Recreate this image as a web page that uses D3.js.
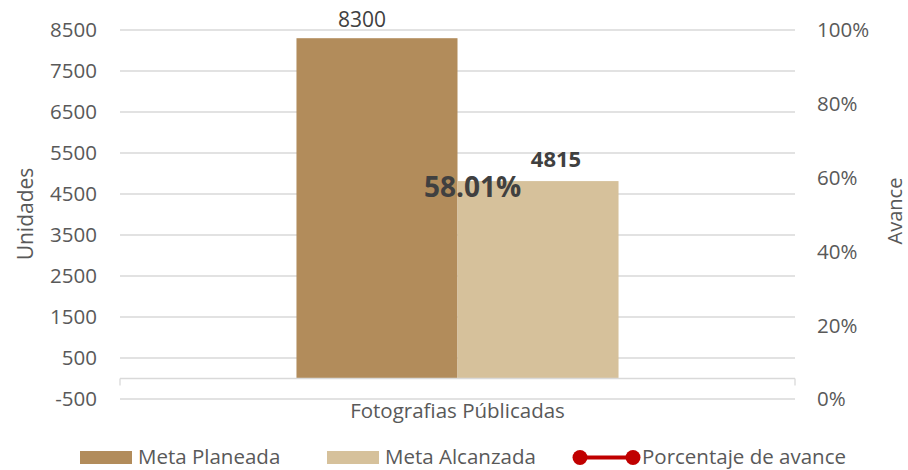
<!DOCTYPE html>
<html>
<head>
<meta charset="utf-8">
<script src="https://cdn.jsdelivr.net/npm/d3@7"></script>
<style>
  body { margin: 0; background: #fff; }
  text { font-family: "Open Sans", sans-serif; fill: #595959; }
</style>
</head>
<body>
<div id="chart"></div>
<script>
// data
var categories = ["Fotografias Públicadas"];
var series = ["Meta Planeada", "Meta Alcanzada"];
var metaPlaneada = [8300];
var metaAlcanzada = [4815];
var porcentaje = [0.5801];
var leftTicks = [-500, 500, 1500, 2500, 3500, 4500, 5500, 6500, 7500, 8500];
var rightTicks = [0, 0.2, 0.4, 0.6, 0.8, 1];

var colors = ["#B28C5B", "#D6C19B"],
    lineColor = "#C00000";

var width = 908, height = 470;
var plot = {left: 120, right: 795, top: 30, bottom: 399};

var svg = d3.select("#chart").append("svg")
    .attr("width", width)
    .attr("height", height);

var y = d3.scaleLinear().domain([-500, 8500]).range([plot.bottom, plot.top]);
var y2 = d3.scaleLinear().domain([0, 1]).range([plot.bottom, plot.top]);

var x0 = d3.scaleBand().domain(categories)
    .range([plot.left, plot.right])
    .paddingInner(0.354).paddingOuter(0.354);
var x1 = d3.scaleBand().domain(series).range([0, x0.bandwidth()]);

// gridlines
svg.append("g").selectAll("line")
    .data(leftTicks)
    .enter().append("line")
    .attr("x1", plot.left).attr("x2", plot.right)
    .attr("y1", function (d) { return y(d); })
    .attr("y2", function (d) { return y(d); })
    .attr("stroke", "#d9d9d9")
    .attr("stroke-width", 1.3);

// left axis labels
svg.append("g").selectAll("text")
    .data(leftTicks)
    .enter().append("text")
    .attr("x", 97)
    .attr("y", function (d) { return y(d); })
    .attr("dy", "0.36em")
    .style("text-anchor", "end")
    .style("font-size", "20.5px")
    .text(function (d) { return d; });

// right axis labels
svg.append("g").selectAll("text")
    .data(rightTicks)
    .enter().append("text")
    .attr("x", 817)
    .attr("y", function (d) { return y2(d); })
    .attr("dy", "0.36em")
    .style("font-size", "20.5px")
    .text(function (d) { return d3.format(".0%")(d); });

// bars
var rows = categories.map(function (c, i) {
    return {cat: c, values: [metaPlaneada[i], metaAlcanzada[i]]};
});

var groups = svg.append("g").selectAll("g")
    .data(rows)
    .enter().append("g")
    .attr("transform", function (d) { return "translate(" + x0(d.cat) + ",0)"; });

groups.selectAll("rect")
    .data(function (d) { return d.values.map(function (v, j) { return {s: series[j], v: v, j: j}; }); })
    .enter().append("rect")
    .attr("x", function (d) { return x1(d.s); })
    .attr("width", x1.bandwidth())
    .attr("y", function (d) { return y(d.v); })
    .attr("height", function (d) { return y(0) - y(d.v); })
    .attr("fill", function (d) { return colors[d.j]; });

// category axis at zero
var axisY = y(0);
svg.append("line")
    .attr("x1", plot.left).attr("x2", plot.right)
    .attr("y1", axisY).attr("y2", axisY)
    .attr("stroke", "#d9d9d9").attr("stroke-width", 1.3);
svg.append("g").selectAll("line")
    .data([plot.left, plot.right])
    .enter().append("line")
    .attr("x1", function (d) { return d; }).attr("x2", function (d) { return d; })
    .attr("y1", axisY).attr("y2", axisY + 7)
    .attr("stroke", "#d9d9d9").attr("stroke-width", 1.3);

// bar labels
var labelShift = [-15, 18];
groups.selectAll(".lbl")
    .data(function (d) { return d.values.map(function (v, j) { return {s: series[j], v: v, j: j}; }); })
    .enter().append("text")
    .attr("class", "lbl")
    .attr("x", function (d) { return x1(d.s) + x1.bandwidth() / 2 + labelShift[d.j]; })
    .attr("y", function (d) { return y(d.v) - (d.j === 0 ? 11 : 14); })
    .style("text-anchor", "middle")
    .style("font-size", function (d) { return d.j === 0 ? "21px" : "22px"; })
    .style("font-weight", function (d) { return d.j === 0 ? "normal" : "bold"; })
    .style("fill", "#404040")
    .text(function (d) { return d.v; });

// percentage point label
svg.append("g").selectAll("text")
    .data(porcentaje)
    .enter().append("text")
    .attr("x", function (d, i) { return x0(categories[i]) + x0.bandwidth() / 2 + 15; })
    .attr("y", function (d) { return y2(d) + 2; })
    .attr("dy", "0.36em")
    .style("text-anchor", "middle")
    .style("font-size", "28px")
    .style("font-weight", "bold")
    .style("fill", "#404040")
    .text(function (d) { return d3.format(".2%")(d); });

// category label
svg.append("g").selectAll("text")
    .data(categories)
    .enter().append("text")
    .attr("x", function (d) { return x0(d) + x0.bandwidth() / 2; })
    .attr("y", 418)
    .style("text-anchor", "middle")
    .style("font-size", "20.5px")
    .text(function (d) { return d; });

// axis titles
svg.append("text")
    .attr("transform", "translate(33,214) rotate(-90)")
    .style("text-anchor", "middle")
    .style("font-size", "21px")
    .text("Unidades");
svg.append("text")
    .attr("transform", "translate(902,211) rotate(-90)")
    .style("text-anchor", "middle")
    .style("font-size", "20px")
    .text("Avance");

// legend
var legend = svg.append("g");
var lx = [80, 327];
series.forEach(function (s, i) {
    legend.append("rect")
        .attr("x", lx[i]).attr("y", 451)
        .attr("width", 52).attr("height", 13)
        .attr("fill", colors[i]);
    legend.append("text")
        .attr("x", lx[i] + 58).attr("y", 464)
        .style("font-size", "20.5px")
        .text(s);
});
legend.append("line")
    .attr("x1", 580).attr("x2", 633)
    .attr("y1", 457.5).attr("y2", 457.5)
    .attr("stroke", lineColor).attr("stroke-width", 4);
legend.selectAll("circle")
    .data([580, 633])
    .enter().append("circle")
    .attr("cx", function (d) { return d; })
    .attr("cy", 457.5)
    .attr("r", 7.5)
    .attr("fill", lineColor);
legend.append("text")
    .attr("x", 642).attr("y", 464)
    .style("font-size", "20.5px")
    .text("Porcentaje de avance");
</script>
</body>
</html>
